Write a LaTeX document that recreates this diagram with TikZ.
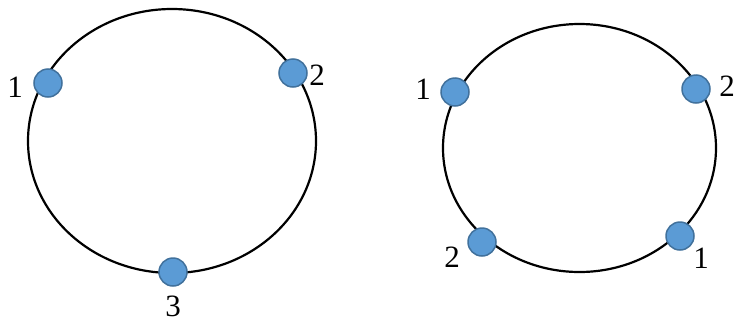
\documentclass[tikz,border=0pt]{standalone}
\usepackage{fontspec}
\setmainfont{Liberation Serif}
\definecolor{dotfill}{RGB}{91,155,213}
\definecolor{dotline}{RGB}{65,113,156}
\begin{document}
\begin{tikzpicture}[x=1pt,y=-1pt,
  ring/.style={draw=black,line width=2.2pt},
  pt/.style={circle,fill=dotfill,draw=dotline,line width=1.5pt,minimum size=28pt,inner sep=0pt},
  lbl/.style={font=\fontsize{31}{31}\selectfont,inner sep=0pt}]
\useasboundingbox (0,0) rectangle (737,322);
\draw[ring] (172,141) ellipse [x radius=144, y radius=132];
\draw[ring] (579.5,148) ellipse [x radius=136.5, y radius=124];
\node[pt] (a1) at (48,83) {};
\node[pt] (a2) at (293,73) {};
\node[pt] (a3) at (173,272) {};
\node[lbl] (la1) at (15,87) {1};
\node[lbl] (la2) at (317,75) {2};
\node[lbl] (la3) at (173,306) {3};
\node[pt] (b1) at (455,92) {};
\node[pt] (b2) at (696,89) {};
\node[pt] (b3) at (482,242) {};
\node[pt] (b4) at (680,236) {};
\node[lbl] (lb1) at (423,89) {1};
\node[lbl] (lb2) at (727,86) {2};
\node[lbl] (lb3) at (452,257) {2};
\node[lbl] (lb4) at (701,258) {1};
\end{tikzpicture}
\end{document}
